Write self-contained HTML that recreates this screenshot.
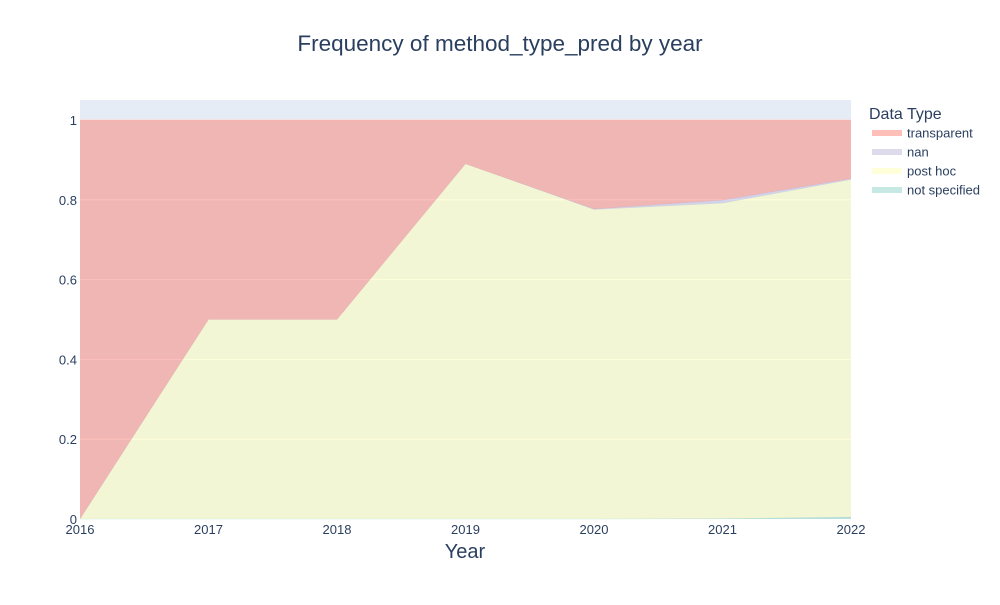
<!DOCTYPE html>
<html><head><meta charset="utf-8"><style>
body{margin:0;background:#fff;}
svg text{font-family:"Liberation Sans",Arial,sans-serif;}
</style></head><body>
<svg id="chart" width="1000" height="600">
<text x="500" y="51" text-anchor="middle" font-size="22.5" fill="#2a3f5f">Frequency of method_type_pred by year</text>
<rect x="80" y="100" width="771" height="419" fill="#E5ECF6"/>
<g id="grid"></g><g id="areas"></g><g id="axes"></g>
<text x="465" y="558" text-anchor="middle" font-size="20" fill="#2a3f5f">Year</text>
<g id="legend">
<text x="869" y="119" font-size="16" fill="#2a3f5f">Data Type</text>
</g>
</svg>
<script>
const years=[2016,2017,2018,2019,2020,2021,2022];
const seriesNames=["not specified","post hoc","nan","transparent"];
const notSpecified=[0,0,0,0,0,0.001,0.005];
const postHoc=[0,0.5,0.5,0.89,0.775,0.79,0.845];
const nanVals=[0,0,0,0,0.002,0.008,0.003];
const transparent=[1,0.5,0.5,0.11,0.223,0.201,0.147];
const yTicks=[0,0.2,0.4,0.6,0.8,1];
const colors=["rgba(141,211,199,0.5)","rgba(255,255,179,0.5)","rgba(190,186,218,0.5)","rgba(251,128,114,0.5)"];
const lineColors=["#8DD3C7","#FFFFB3","#BEBADA","#FB8072"];
const NS="http://www.w3.org/2000/svg";
const X0=80,X1=851,Y0=519,YTOP=100,YMAX=1.05;
const xs=i=>X0+(X1-X0)*(years[i]-years[0])/(years[years.length-1]-years[0]);
const ys=v=>Y0-(Y0-YTOP)*v/YMAX;
function mk(t,a,p){const e=document.createElementNS(NS,t);for(const k in a)e.setAttribute(k,a[k]);p.appendChild(e);return e;}
const grid=document.getElementById('grid'),axes=document.getElementById('axes'),areas=document.getElementById('areas');
yTicks.forEach(t=>{
 if(t>0){const l=mk('line',{x1:X0,x2:X1,y1:ys(t),y2:ys(t),stroke:'#fff','stroke-width':1},grid);
 
 }
 const tx=mk('text',{x:77,y:ys(t)+5,'text-anchor':'end','font-size':13,fill:'#2a3f5f'},axes);
 tx.textContent=String(t);
 
 
});
years.forEach((y,i)=>{
 const tx=mk('text',{x:xs(i),y:534,'text-anchor':'middle','font-size':13,fill:'#2a3f5f'},axes);
 tx.textContent=String(y);
 
 
});
const all=[notSpecified,postHoc,nanVals,transparent];
let base=years.map(()=>0);
all.forEach((s,k)=>{
 const top=base.map((b,i)=>b+s[i]);
 let d='';
 top.forEach((v,i)=>{d+=(i?'L':'M')+xs(i)+','+ys(v);});
 for(let i=years.length-1;i>=0;i--)d+='L'+xs(i)+','+ys(base[i]);
 d+='Z';
 const p=mk('path',{d:d,fill:colors[k],stroke:'none'},areas);
 
 
 let ld='';top.forEach((v,i)=>{ld+=(i?'L':'M')+xs(i)+','+ys(v);});
 const ln=mk('path',{d:ld,fill:'none',stroke:lineColors[k],'stroke-width':0.5,'stroke-opacity':0.5},areas);
 
 
 base=top;
});
const leg=document.getElementById('legend');
const order=[3,2,1,0];
order.forEach((k,j)=>{
 const y=133+j*19;
 const r=mk('rect',{x:872,y:y-3,width:30,height:6,fill:colors[k]},leg);
 
 
 const t=mk('text',{x:907,y:y+4.5,'font-size':13,fill:'#2a3f5f'},leg);
 t.textContent=seriesNames[k];
 
 
});
</script>
</body></html>
